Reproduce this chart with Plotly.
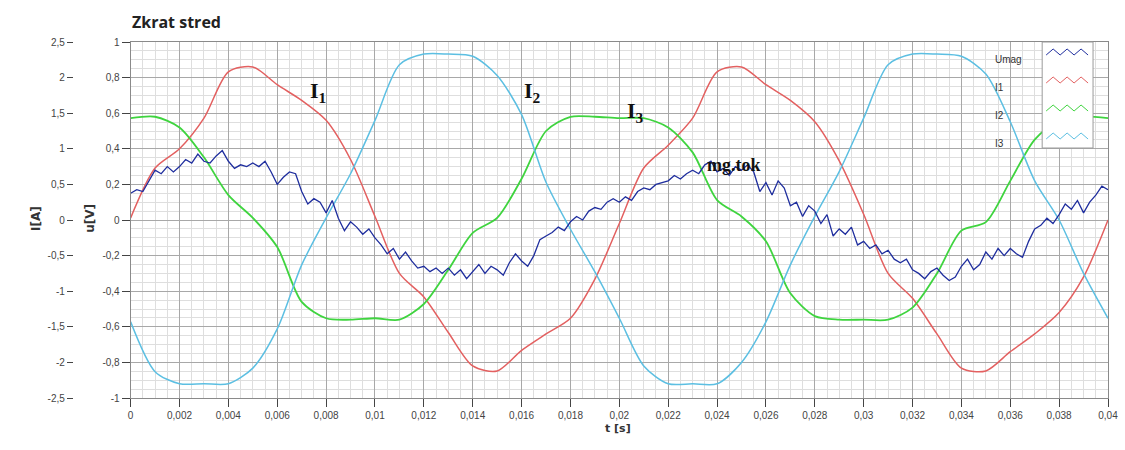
import plotly.graph_objects as go

# ---------------- data ----------------
# currents sampled every 1 ms, 0 .. 40 ms (values in A, read from I[A] axis)
t_cur = [round(i * 0.001, 3) for i in range(41)]

I1 = [0.03, 0.73, 1.00, 1.43, 2.08, 2.15, 1.90, 1.68, 1.40, 0.85, 0.05,
      -0.75, -1.08, -1.58, -2.05, -2.12, -1.83, -1.60, -1.38, -0.83, -0.05,
      0.73, 1.05, 1.43, 2.08, 2.15, 1.90, 1.68, 1.38, 0.83, 0.08,
      -0.75, -1.10, -1.60, -2.08, -2.12, -1.85, -1.60, -1.30, -0.80, 0.00]

I2 = [1.43, 1.45, 1.30, 0.88, 0.35, 0.03, -0.38, -1.15, -1.38, -1.40, -1.38,
      -1.40, -1.18, -0.70, -0.18, 0.03, 0.58, 1.25, 1.45, 1.45, 1.43,
      1.43, 1.30, 0.95, 0.28, 0.05, -0.30, -1.03, -1.35, -1.40, -1.40,
      -1.40, -1.23, -0.75, -0.15, -0.03, 0.55, 1.13, 1.40, 1.45, 1.43]

I3 = [-1.43, -2.13, -2.30, -2.30, -2.30, -2.08, -1.53, -0.63, 0.03, 0.65, 1.40,
      2.18, 2.33, 2.33, 2.30, 2.03, 1.48, 0.53, -0.13, -0.73, -1.38,
      -2.05, -2.30, -2.30, -2.30, -2.00, -1.43, -0.63, 0.05, 0.68, 1.43,
      2.18, 2.33, 2.33, 2.30, 2.05, 1.38, 0.55, 0.00, -0.75, -1.38]

# magnetising voltage sampled every 0.25 ms (values in V, read from u[V] axis)
t_mag = [round(i * 0.00025, 5) for i in range(161)]
Umag = [
    0.15, 0.17, 0.16, 0.22, 0.28, 0.26, 0.30, 0.27, 0.30, 0.34,
    0.32, 0.37, 0.33, 0.32, 0.36, 0.39, 0.33, 0.29, 0.31, 0.30,
    0.32, 0.30, 0.33, 0.27, 0.20, 0.24, 0.27, 0.26, 0.16, 0.09,
    0.12, 0.10, 0.04, 0.11, 0.01, -0.06, -0.01, -0.04, -0.08, -0.05,
    -0.10, -0.14, -0.19, -0.16, -0.22, -0.18, -0.23, -0.27, -0.26, -0.29,
    -0.27, -0.30, -0.27, -0.31, -0.28, -0.33, -0.29, -0.25, -0.30, -0.26,
    -0.28, -0.31, -0.24, -0.19, -0.23, -0.26, -0.20, -0.11, -0.09, -0.07,
    -0.04, -0.06, -0.01, 0.02, 0.00, 0.05, 0.07, 0.06, 0.10, 0.12,
    0.10, 0.13, 0.11, 0.16, 0.18, 0.17, 0.20, 0.21, 0.22, 0.25,
    0.23, 0.26, 0.28, 0.26, 0.31, 0.33, 0.27, 0.29, 0.25, 0.30,
    0.28, 0.31, 0.27, 0.16, 0.21, 0.14, 0.22, 0.18, 0.08, 0.10,
    0.02, 0.08, 0.05, -0.02, 0.03, -0.09, -0.05, -0.08, -0.04, -0.14,
    -0.12, -0.16, -0.14, -0.19, -0.17, -0.22, -0.24, -0.22, -0.28, -0.30,
    -0.33, -0.29, -0.27, -0.31, -0.34, -0.32, -0.26, -0.22, -0.28, -0.25,
    -0.18, -0.22, -0.16, -0.20, -0.16, -0.19, -0.21, -0.12, -0.05, -0.03,
    0.01, -0.02, 0.03, 0.09, 0.06, 0.11, 0.04, 0.10, 0.14, 0.19,
    0.17,
]

x_tickvals = [i * 0.002 for i in range(21)]
x_ticktext = ["0", "0,002", "0,004", "0,006", "0,008", "0,01", "0,012", "0,014",
              "0,016", "0,018", "0,02", "0,022", "0,024", "0,026", "0,028",
              "0,03", "0,032", "0,034", "0,036", "0,038", "0,04"]
i_tickvals = [2.5, 2, 1.5, 1, 0.5, 0, -0.5, -1, -1.5, -2, -2.5]
i_ticktext = ["2,5", "2", "1,5", "1", "0,5", "0", "-0,5", "-1", "-1,5", "-2", "-2,5"]
u_tickvals = [1, 0.8, 0.6, 0.4, 0.2, 0, -0.2, -0.4, -0.6, -0.8, -1]
u_ticktext = ["1", "0,8", "0,6", "0,4", "0,2", "0", "-0,2", "-0,4", "-0,6", "-0,8", "-1"]

legend_names = ["Umag", "I1", "I2", "I3"]

# ---------------- styling ----------------
C_UMAG = "#1f2e9e"
C_I1 = "#e36060"
C_I2 = "#3fd43f"
C_I3 = "#5cbfe2"

W, H = 1125, 450
ML, MR, MT, MB = 0, 17, 42, 52
PW, PH = W - ML - MR, H - MT - MB


def px(x):
    return (x - ML) / PW


def py(y):
    return (H - MB - y) / PH


fig = go.Figure()
fig.add_trace(go.Scatter(x=t_cur, y=I1, name="I1", mode="lines",
                         line=dict(color=C_I1, width=1.5, shape="spline", smoothing=0.8),
                         xaxis="x", yaxis="y"))
fig.add_trace(go.Scatter(x=t_cur, y=I2, name="I2", mode="lines",
                         line=dict(color=C_I2, width=1.8, shape="spline", smoothing=0.8),
                         xaxis="x", yaxis="y"))
fig.add_trace(go.Scatter(x=t_cur, y=I3, name="I3", mode="lines",
                         line=dict(color=C_I3, width=1.5, shape="spline", smoothing=0.8),
                         xaxis="x", yaxis="y"))
fig.add_trace(go.Scatter(x=t_mag, y=Umag, name="Umag", mode="lines",
                         line=dict(color=C_UMAG, width=1.3),
                         xaxis="x", yaxis="y2"))

tickfont = dict(family="Liberation Sans, Arial, sans-serif", size=10, color="#444")

fig.update_layout(
    width=W, height=H,
    margin=dict(l=ML, r=MR, t=MT, b=MB),
    paper_bgcolor="white", plot_bgcolor="white",
    showlegend=False,
    title=dict(text="<b>Zkrat stred</b>", x=132 / W, xref="container", xanchor="left",
               y=1 - 22 / H, yref="container", yanchor="middle",
               font=dict(family="Open Sans, DejaVu Sans, sans-serif", size=16, color="#222")),
    xaxis=dict(domain=[px(128), 1], range=[0, 0.04], tickvals=x_tickvals, ticktext=x_ticktext,
               ticks="outside", ticklen=8, tickcolor="#444", tickfont=tickfont,
               showgrid=True, gridcolor="#a8a8a8", gridwidth=1,
               minor=dict(dtick=0.0005, showgrid=True, gridcolor="#dedede", gridwidth=1),
               showline=True, linecolor="#8a8a8a", mirror=True, zeroline=False),
    yaxis=dict(range=[-2.5, 2.5], anchor="free", position=px(70), side="left",
               tickvals=i_tickvals, ticktext=i_ticktext, ticks="outside", ticklen=6,
               tickcolor="#444", tickfont=tickfont, showline=False,
               showgrid=True, gridcolor="#a8a8a8", gridwidth=1,
               minor=dict(dtick=0.125, showgrid=True, gridcolor="#dedede", gridwidth=1),
               zeroline=False),
    yaxis2=dict(range=[-1, 1], overlaying="y", anchor="x", side="left",
                tickvals=u_tickvals, ticktext=u_ticktext, ticks="outside", ticklen=8,
                tickcolor="#444", tickfont=tickfont, showgrid=False, zeroline=False,
                showline=True, linecolor="#8a8a8a", mirror=True),
)

annots = []
# axis titles
annots.append(dict(text="<b>I[A]</b>", x=px(24), y=py(218), xref="paper", yref="paper",
                   textangle=-90, showarrow=False,
                   font=dict(family="DejaVu Sans, sans-serif", size=12, color="#333")))
annots.append(dict(text="<b>u[V]</b>", x=px(78), y=py(218), xref="paper", yref="paper",
                   textangle=-90, showarrow=False,
                   font=dict(family="DejaVu Sans, sans-serif", size=12, color="#333")))
annots.append(dict(text="<b>t [s]</b>", x=px(617), y=py(437), xref="paper", yref="paper",
                   showarrow=False,
                   font=dict(family="DejaVu Sans, sans-serif", size=11, color="#333")))
# in-plot labels
serif = dict(family="Liberation Serif, DejaVu Serif, serif", size=22, color="#111")
annots.append(dict(text="<b>I<sub>1</sub></b>", x=px(306), y=py(76), xref="paper", yref="paper",
                   showarrow=False, font=serif))
annots.append(dict(text="<b>I<sub>2</sub></b>", x=px(531), y=py(76), xref="paper", yref="paper",
                   showarrow=False, font=serif))
annots.append(dict(text="<b>I<sub>3</sub></b>", x=px(634), y=py(96), xref="paper", yref="paper",
                   showarrow=False, font=serif))
annots.append(dict(text="<b>mg.tok</b>", x=px(762), y=py(153), xref="paper", yref="paper",
                   showarrow=False,
                   font=dict(family="Liberation Serif, DejaVu Serif, serif", size=18, color="#111")))

# custom legend
shapes = []
shapes.append(dict(type="rect", xref="paper", yref="paper",
                   x0=px(1042), x1=px(1093), y0=py(148), y1=py(42),
                   fillcolor="white", line=dict(color="#9a9a9a", width=1), layer="above"))
row_y = [52, 80, 108, 136]
row_c = [C_UMAG, C_I1, C_I2, C_I3]
for name, yy, col in zip(legend_names, row_y, row_c):
    annots.append(dict(text=name, x=px(993), y=py(yy), xref="paper", yref="paper",
                       xanchor="left", showarrow=False,
                       font=dict(family="Liberation Sans, Arial, sans-serif", size=10, color="#333")))
    pts = []
    for k, xx in enumerate(range(1046, 1090, 7)):
        pts.append((px(xx), py(yy + (3 if k % 2 == 0 else -3))))
    path = "M " + " L ".join(f"{a:.5f},{b:.5f}" for a, b in pts)
    shapes.append(dict(type="path", path=path, xref="paper", yref="paper",
                       line=dict(color=col, width=1), layer="above"))

fig.update_layout(annotations=annots, shapes=shapes)

fig.write_html("out.html", config={"displayModeBar": False},
               post_script="document.body.style.margin='0';document.body.style.padding='0';")
